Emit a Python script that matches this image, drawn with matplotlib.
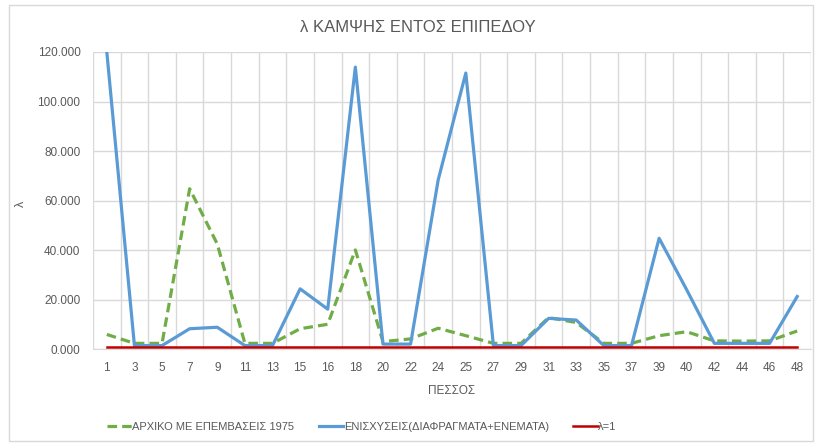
import matplotlib
matplotlib.use("Agg")
import matplotlib.pyplot as plt
import numpy as np
from matplotlib.patches import Rectangle

categories = ["1", "3", "5", "7", "9", "11", "13", "15", "16", "18", "20", "22", "24",
              "25", "27", "29", "31", "33", "35", "37", "39", "40", "42", "44", "46", "48"]
original_1975 = [6.0, 2.4, 2.4, 64.8, 42.5, 2.4, 2.4, 8.3, 10.1, 40.1, 3.1, 4.2, 8.5,
                 5.5, 2.4, 2.4, 12.8, 10.8, 2.4, 2.4, 5.5, 7.1, 3.4, 3.3, 3.4, 7.4]
strengthened = [120.0, 1.5, 1.5, 8.3, 8.9, 1.5, 1.5, 24.4, 16.2, 113.9, 2.1, 2.1, 68.4,
                111.5, 1.5, 1.5, 12.5, 11.8, 1.5, 1.5, 44.8, 24.0, 2.4, 2.4, 2.4, 21.3]
lambda_one = [1.0] * len(categories)
ytick_values = [0, 20, 40, 60, 80, 100, 120]
ytick_labels = ["0.000", "20.000", "40.000", "60.000", "80.000", "100.000", "120.000"]

series_names = ["ΑΡΧΙΚΟ ΜΕ ΕΠΕΜΒΑΣΕΙΣ 1975", "ΕΝΙΣΧΥΣΕΙΣ(ΔΙΑΦΡΑΓΜΑΤΑ+ΕΝΕΜΑΤΑ)", "λ=1"]
title = "λ ΚΑΜΨΗΣ ΕΝΤΟΣ ΕΠΙΠΕΔΟΥ"

plt.rcParams['font.family'] = ['Liberation Sans', 'DejaVu Sans']
txt = '#595959'

fig = plt.figure(figsize=(8.18, 4.43), dpi=100)
fig.patches.append(Rectangle((9/818, 2/443), 804/818, 436/443, transform=fig.transFigure,
                             fill=False, edgecolor='#D9D9D9', linewidth=1))
ax = fig.add_axes([93/818, 1 - 349.3/443, (811 - 93)/818, (349.3 - 52)/443])

x = np.arange(len(categories))
ax.plot(x, original_1975, color='#70AD47', linewidth=2.3, linestyle=(0, (3, 1.6)),
        label=series_names[0])
ax.plot(x, strengthened, color='#5B9BD5', linewidth=2.3, label=series_names[1],
        solid_joinstyle='round')
ax.plot(x, lambda_one, color='#C00000', linewidth=1.8, label=series_names[2])

ax.set_xlim(-0.5, len(categories) - 0.5)
ax.set_ylim(0, 120)
ax.set_xticks(x)
ax.set_xticklabels(categories)
ax.set_xticks(np.arange(-0.5, len(categories)), minor=True)
ax.set_yticks(ytick_values)
ax.set_yticklabels(ytick_labels)
ax.grid(True, which='minor', axis='x', color='#D9D9D9', linewidth=1)
ax.grid(True, which='major', axis='y', color='#D9D9D9', linewidth=1)
ax.set_axisbelow(True)
ax.tick_params(which='both', length=0, colors=txt, labelsize=8.5)
ax.tick_params(axis='x', pad=9)
ax.tick_params(axis='y', pad=9)
for s in ['top', 'right', 'left']:
    ax.spines[s].set_visible(False)
ax.spines['bottom'].set_color('#D9D9D9')

fig.text(418/818, 1 - 27/443, title, fontsize=12, color=txt, ha='center', va='center')
ax.set_xlabel("ΠΕΣΣΟΣ", fontsize=8.5, color=txt, labelpad=8)
ax.set_ylabel("λ", fontsize=9, color=txt)
ax.yaxis.set_label_coords((27 - 93) / 718, 0.49)

leg = fig.legend(loc='center', bbox_to_anchor=(362/818, 1 - 427/443), ncol=3, frameon=False,
                 fontsize=8, handlelength=2.2, columnspacing=2.2, handletextpad=0.05)
for t in leg.get_texts():
    t.set_color(txt)

fig.savefig("out.png", dpi=100)
